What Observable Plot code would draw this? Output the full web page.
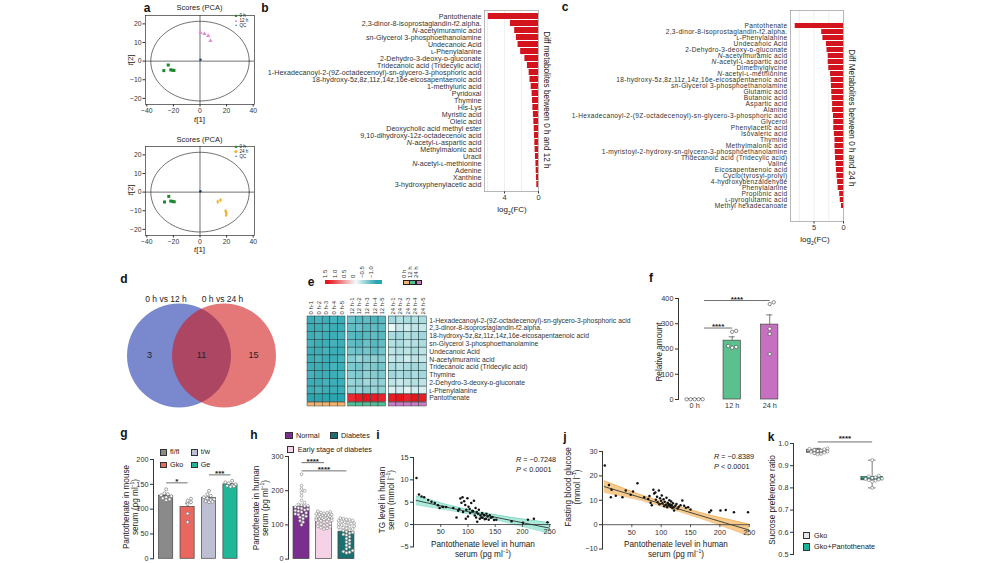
<!DOCTYPE html>
<html>
<head>
<meta charset="utf-8">
<script src="https://cdn.jsdelivr.net/npm/d3@7"></script>
<script src="https://cdn.jsdelivr.net/npm/@observablehq/plot@0.6"></script>
<style>
html,body{margin:0;padding:0;background:#fff;}
#root{position:relative;width:1000px;height:563px;overflow:hidden;background:#fff;font-family:"Liberation Sans",Arial,Helvetica,sans-serif;color:#222;}
#root svg{overflow:visible;}
#root sup{font-size:0.6em;line-height:0;}
#root sub{font-size:0.65em;line-height:0;}
</style>
</head>
<body>
<div id="root"></div>
<script>
// ===================== DATA =====================
// a: PCA scores, 0 h vs 12 h
const pca12_0h_t1 = [-27.2, -23.9, -22.0, -20.5, -19.6];
const pca12_0h_t2 = [-5.1, -2.1, -4.7, -4.9, -5.0];
const pca12_12h_t1 = [0.4, 3.4, 6.2, 7.9];
const pca12_12h_t2 = [15.2, 14.7, 13.6, 11.0];
const pca12_qc_t1 = [0.4];
const pca12_qc_t2 = [0.8];
// a: PCA scores, 0 h vs 24 h
const pca24_0h_t1 = [-26.7, -23.5, -22.0, -20.5, -19.4];
const pca24_0h_t2 = [-5.3, -2.3, -4.8, -5.0, -5.2];
const pca24_24h_t1 = [13.4, 15.4, 19.2, 19.9, 19.7];
const pca24_24h_t2 = [-5.2, -4.3, -10.2, -11.1, -12.3];
const pca24_qc_t1 = [0.3];
const pca24_qc_t2 = [0.5];
const pcaEllipseT1 = 37;    // Hotelling ellipse semi-axis along t[1]
const pcaEllipseT2 = 21.4;  // semi-axis along t[2]

// b: diff metabolites 0 h vs 12 h, log2(FC)
const bNames = ["Pantothenate","2,3-dinor-8-isoprostaglandin-f2.alpha.","N-acetylmuramic acid","sn-Glycerol 3-phosphoethanolamine","Undecanoic Acid","ʟ-Phenylalanine","2-Dehydro-3-deoxy-ᴅ-gluconate","Tridecanoic acid (Tridecylic acid)","1-Hexadecanoyl-2-(9Z-octadecenoyl)-sn-glycero-3-phosphoric acid","18-hydroxy-5z,8z,11z,14z,16e-eicosapentaenoic acid","1-methyluric acid","Pyridoxal","Thymine","His-Lys","Myristic acid","Oleic acid","Deoxycholic acid methyl ester","9,10-dihydroxy-12z-octadecenoic acid","N-acetyl-ʟ-aspartic acid","Methylmalonic acid","Uracil","N-acetyl-ʟ-methionine","Adenine","Xanthine","3-hydroxyphenylacetic acid"];
const bFC = [5.9, 3.3, 2.8, 2.6, 2.4, 2.1, 1.6, 1.3, 1.1, 1.0, 0.86, 0.75, 0.7, 0.66, 0.6, 0.55, 0.5, 0.47, 0.43, 0.4, 0.36, 0.3, 0.27, 0.24, 0.2];
const bTicks = [4, 0];

// c: diff metabolites 0 h vs 24 h, log2(FC)
const cNames = ["Pantothenate","2,3-dinor-8-isoprostaglandin-f2.alpha.","ʟ-Phenylalanine","Undecanoic Acid","2-Dehydro-3-deoxy-ᴅ-gluconate","N-acetylmuramic acid","N-acetyl-ʟ-aspartic acid","Dimethylglycine","N-acetyl-ʟ-methionine","18-hydroxy-5z,8z,11z,14z,16e-eicosapentaenoic acid","sn-Glycerol 3-phosphoethanolamine","Glutamic acid","Butanoic acid","Aspartic acid","Alanine","1-Hexadecanoyl-2-(9Z-octadecenoyl)-sn-glycero-3-phosphoric acid","Glycerol","Phenylacetic acid","Isovaleric acid","Thymine","Methylmalonic acid","1-myristoyl-2-hydroxy-sn-glycero-3-phosphoethanolamine","Tridecanoic acid (Tridecylic acid)","Valine","Eicosapentaenoic acid","Cyclo(tyrosyl-prolyl)","4-hydroxybenzaldehyde","Phenylalanine","Propionic acid","ʟ-pyroglutamic acid","Methyl hexadecanoate"];
const cFC = [8.2, 3.7, 3.5, 2.9, 2.8, 2.6, 2.6, 2.5, 2.2, 2.1, 2.05, 2.0, 1.95, 1.85, 1.85, 1.7, 1.65, 1.65, 1.55, 1.45, 1.45, 1.4, 1.35, 1.25, 1.2, 1.1, 1.0, 0.9, 0.65, 0.55, 0.35];
const cTicks = [5, 0];

// d: Venn
const vennSets = ["0 h vs 12 h", "0 h vs 24 h"];
const vennCounts = [3, 11, 15]; // only 12 h, shared, only 24 h

// e: heatmap
const heatMetabolites = ["1-Hexadecanoyl-2-(9Z-octadecenoyl)-sn-glycero-3-phosphoric acid","2,3-dinor-8-isoprostaglandin-f2.alpha.","18-hydroxy-5z,8z,11z,14z,16e-eicosapentaenoic acid","sn-Glycerol 3-phosphoethanolamine","Undecanoic Acid","N-acetylmuramic acid","Tridecanoic acid (Tridecylic acid)","Thymine","2-Dehydro-3-deoxy-ᴅ-gluconate","ʟ-Phenylalanine","Pantothenate"];
const heatGroups = ["0 h", "12 h", "24 h"];
const heatReplicates = [1, 2, 3, 4, 5];
const heatValues = [
  [-1.0,-0.95,-1.0,-0.95,-1.0, -0.75,-0.85,-0.8,-0.9,-0.85, -0.45,-0.35,-0.4,-0.35,-0.4],
  [-1.0,-1.0,-0.95,-1.0,-1.0, -0.8,-0.75,-0.85,-0.8,-0.8, -0.05,-0.25,-0.2,-0.3,-0.25],
  [-1.0,-0.95,-1.0,-1.0,-0.95, -0.85,-0.9,-0.85,-0.8,-0.85, -0.4,-0.45,-0.35,-0.4,-0.45],
  [-0.95,-1.0,-1.0,-0.95,-1.0, -0.8,-0.85,-0.75,-0.85,-0.8, -0.35,-0.4,-0.3,-0.35,-0.4],
  [-1.0,-1.0,-0.95,-1.0,-1.0, -0.7,-0.75,-0.7,-0.8,-0.7, -0.3,-0.35,-0.3,-0.4,-0.3],
  [-1.0,-0.95,-1.0,-1.0,-0.95, -0.6,-0.5,-0.6,-0.55,-0.6, -0.25,-0.3,-0.2,-0.3,-0.25],
  [-1.0,-1.0,-1.0,-0.95,-1.0, -0.65,-0.7,-0.6,-0.65,-0.7, -0.4,-0.35,-0.4,-0.45,-0.4],
  [-0.95,-1.0,-1.0,-1.0,-0.95, -0.6,-0.65,-0.55,-0.6,-0.65, -0.45,-0.4,-0.45,-0.4,-0.45],
  [-1.0,-1.0,-0.95,-1.0,-1.0, -0.5,-0.55,-0.45,-0.5,-0.55, -0.3,-0.25,-0.3,-0.35,-0.3],
  [-1.0,-0.95,-1.0,-1.0,-1.0, -0.55,-0.5,-0.6,-0.5,-0.55, -0.15,-0.2,-0.1,-0.2,-0.15],
  [-1.15,-1.15,-1.1,-1.15,-1.15, 1.35,1.45,1.5,1.45,1.4, 1.45,1.5,1.4,1.5,1.45]
];
const heatLegendTicks = [1.5, 1.0, 0.5, 0, -0.5, -1.0];

// f: relative amount of pantothenate
const fGroups = ["0 h", "12 h", "24 h"];
const f0h = [1, 1, 1, 1, 1];
const f12h = [272, 268, 212, 205, 208];
const f24h = [385, 378, 280, 260, 180];
const fTicks = [0, 100, 200, 300, 400];

// g: pantothenate in mouse serum
const gGroups = ["fl/fl", "Gko", "t/w", "Ge"];
const gFlfl = [140, 132, 130, 128, 126, 124, 122, 120, 118];
const gGko = [121, 117, 114, 110, 91, 74];
const gTw = [137, 130, 127, 124, 122, 120, 118, 116, 115, 114];
const gGe = [157, 154, 152, 150, 148, 147, 146, 145];
const gTicks = [0, 50, 100, 150, 200];

// h: pantothenate in human serum
const hGroups = ["Normal", "Early stage of diabetes", "Diabetes"];
const hNormal = [248,215,205,200,195,185,172,165,160,158,156,155,152,150,148,146,144,142,140,138,135,132,130,128,125,122,118,112,108,100];
const hEarly = [140,138,136,135,134,132,130,130,128,127,126,125,124,123,122,121,120,120,119,118,117,116,115,114,113,112,110,108,106,104,102,100,98,96,94,92,90,88];
const hDiabetes = [120,118,116,115,113,112,110,108,106,105,104,102,100,98,96,95,93,92,90,88,86,85,83,80,78,75,72,70,65,60,55,50,45,40,35,30,25,22,20,18];
const hTicks = [0, 100, 200, 300];

// i: TG level vs pantothenate
const iX = [5.5,10,14.7,19.6,27,33,39,45,48,53,60,54.5,73,79,82,84,86,88,90,91,93,95,97,99,101,103,104,106,108,109.5,111,112.5,114,115,116,118.7,120,121.7,123,124.7,126,127,129,130,131,133,134,136,138,140,142,145,148,152,180,201,210,221,246,96,100,117];
const iY = [10.4,6.7,6.3,6.1,5.5,5.1,4.8,4.3,3.7,4.0,3.9,3.9,3.7,1.6,3.1,3.5,5.8,4.9,6.1,2.8,5.2,4.4,3.3,5.9,4.0,3.5,2.6,4.8,3.1,3.0,5.3,2.0,3.7,1.6,2.8,2.4,3.3,1.3,2.0,1.6,2.6,1.5,2.2,2.0,1.2,1.3,2.4,1.8,1.1,2.1,1.5,1.7,1.0,1.05,0.75,0.4,1.1,1.3,0.5,1.3,1.8,0.6];
const iFitX = [5, 60, 115, 180, 250];
const iFitY = [5.4, 3.9, 2.5, 0.9, -0.8];
const iBandLo = [4.4, 3.3, 2.1, 0.2, -2.0];
const iBandHi = [6.4, 4.5, 2.9, 1.6, 0.4];
const iYTicks = [-5, 0, 5, 10, 15];
const iXTicks = [50, 100, 150, 200, 250];

// j: fasting blood glucose vs pantothenate
const jX = [3.9,11,15.4,14.2,22.7,34,39.7,48,52,59.6,71,78,80,82,84,86.7,88,90,91,93,94,96,97,98,100,101,102,104,105,106,108,109,110,111,112,113,114,115,116,117,118,119,120,121,122,124,126,128,130,133,136,139,142,146,150,182,185,201,210,224,248];
const jY = [24.3,16.3,14.3,11.2,11.9,11.2,14.0,12.3,13.6,17.0,11.2,10.5,11.8,9.0,8.0,14.3,12.8,13.2,10.2,11.5,9.2,14.0,8.4,10.8,9.8,12.0,8.8,10.4,7.6,9.4,8.2,11.0,7.1,9.0,8.6,7.9,10.0,8.3,7.4,9.5,8.0,6.8,8.8,7.1,5.8,7.8,8.5,6.6,7.4,8.0,9.9,7.8,6.9,7.2,6.2,5.1,5.8,5.8,6.0,5.1,5.1];
const jFitX = [3, 60, 115, 180, 250];
const jFitY = [15.6, 11.5, 7.5, 2.8, -2.2];
const jBandLo = [13.2, 10.3, 6.6, 1.5, -4.6];
const jBandHi = [18.0, 12.7, 8.4, 4.1, 0.2];
const jYTicks = [-10, 0, 10, 20, 30];
const jXTicks = [50, 100, 150, 200, 250];

// k: sucrose preference ratio
const kGroups = ["Gko", "Gko+Pantothenate"];
const kGko = [0.978,0.976,0.974,0.971,0.968,0.966,0.964,0.962,0.959,0.956,0.953,0.951];
const kGkoP = [0.925,0.855,0.852,0.848,0.845,0.842,0.84,0.838,0.835,0.832,0.828,0.8];
const kTicks = [0.5, 0.6, 0.7, 0.8, 0.9, 1.0];

// ===================== HELPERS =====================
const FONT = '"Liberation Sans", Arial, Helvetica, sans-serif';
const root = document.getElementById("root");
const st = (fs, ls = 0) => ({fontFamily: FONT, fontSize: fs + "px", letterSpacing: ls + "px", color: "#333", background: "transparent", overflow: "visible"});
function put(svg, left, top) {
  svg.style.position = "absolute"; svg.style.left = left + "px"; svg.style.top = top + "px";
  root.appendChild(svg); return svg;
}
function txt(html, x, y, o = {}) {
  const d = document.createElement("div");
  d.innerHTML = html;
  const size = o.size ?? 7, rot = o.rot ?? 0, align = o.align ?? "center";
  const tx = align === "left" ? "0" : align === "right" ? "-100%" : "-50%";
  d.style.cssText = `position:absolute;left:${x}px;top:${y}px;font-size:${size}px;line-height:${o.lh ?? 1.2};white-space:nowrap;text-align:center;color:${o.color ?? "#222"};font-weight:${o.weight ?? "normal"};transform:translate(${tx},-50%) rotate(${rot}deg);transform-origin:${align === "left" ? "0 50%" : "50% 50%"};`;
  root.appendChild(d); return d;
}
function rtxt(html, x, y, size) { // rotated -90, text starts at (x,y) and runs upward
  const d = document.createElement("div");
  d.innerHTML = html;
  d.style.cssText = `position:absolute;left:${x}px;top:${y - size / 2}px;font-size:${size}px;line-height:${size}px;height:${size}px;white-space:nowrap;color:#333;transform-origin:0 50%;transform:rotate(-90deg);`;
  root.appendChild(d); return d;
}
function swatch(x, y, w, h, fill, stroke = "#333") {
  const d = document.createElement("div");
  d.style.cssText = `position:absolute;left:${x}px;top:${y}px;width:${w}px;height:${h}px;background:${fill};border:0.7px solid ${stroke};box-sizing:border-box;`;
  root.appendChild(d); return d;
}
function fontAxis(svg, axis, size) {
  d3.select(svg).selectAll(`g[aria-label^="${axis}-axis"] text`).style("font-size", size + "px").style("letter-spacing", "0px");
}
function italicize(svg, axis) {
  d3.select(svg).selectAll(`g[aria-label^="${axis}-axis"] text`).each(function () {
    const t = this.textContent;
    const m = t.match(/^(N|sn)(-.*)$/);
    if (m) {
      const s = d3.select(this); s.text("");
      s.append("tspan").attr("font-style", "italic").text(m[1]);
      s.append("tspan").text(m[2]);
    }
  });
}
function beeswarm(vals, k, d, maxOff) {
  const order = d3.range(vals.length).sort((a, b) => vals[a] - vals[b]);
  const cands = [0];
  for (let s = 1; s <= 60; s++) {
    const v = Math.ceil(s / 2) * d * 0.5 * (s % 2 ? 1 : -1);
    if (Math.abs(v) <= maxOff) cands.push(v);
  }
  const placed = [], off = new Array(vals.length).fill(0);
  for (const i of order) {
    const y = vals[i] * k;
    let chosen = null, best = -1, bestC = 0;
    for (const c of cands) {
      let m = Infinity;
      for (const p of placed) { const dd = Math.hypot(p.x - c, p.y - y); if (dd < m) m = dd; }
      if (m >= d) { chosen = c; break; }
      if (m > best) { best = m; bestC = c; }
    }
    if (chosen === null) chosen = bestC;
    placed.push({x: chosen, y}); off[i] = chosen;
  }
  return off;
}
function groupStats(groups) {
  return groups.map((vals, i) => {
    const mean = d3.mean(vals), sd = d3.deviation(vals) || 0;
    return {i, mean, sem: sd / Math.sqrt(vals.length)};
  });
}
function swarmRows(groups, kY, pxX, d, maxOff) {
  const rows = [];
  groups.forEach((vals, i) => {
    const off = beeswarm(vals, kY, d, maxOff);
    vals.forEach((v, j) => rows.push({x: i + off[j] / pxX, v}));
  });
  return rows;
}

// ===================== PANEL LETTERS =====================
[["a",147,8],["b",265,8],["c",565,7],["d",124,279],["e",311,282],["f",651,278],["g",124,433],["h",254,435],["i",378,435],["j",565,437],["k",771,437]]
  .forEach(([l, x, y]) => txt(l, x, y, {size: 12, weight: "bold", color: "#111"}));

// ===================== a: PCA =====================
function pcaPlot(groups) {
  const ell = d3.range(0, 361, 4).map(a => ({t1: pcaEllipseT1 * Math.cos(a * Math.PI / 180), t2: pcaEllipseT2 * Math.sin(a * Math.PI / 180)}));
  return Plot.plot({
    width: 131, height: 105, marginLeft: 20, marginRight: 2, marginTop: 2, marginBottom: 14,
    style: st(6.8),
    x: {domain: [-41, 41], ticks: [-40, -20, 0, 20, 40], tickSize: 2.5, tickPadding: 1.5, label: null},
    y: {domain: [-23.3, 24.5], ticks: [-20, -10, 0, 10, 20], tickSize: 2.5, tickPadding: 1.5, label: null},
    marks: [
      Plot.ruleX([0], {stroke: "#333", strokeWidth: 0.7}),
      Plot.ruleY([0], {stroke: "#333", strokeWidth: 0.7}),
      Plot.line(ell, {x: "t1", y: "t2", stroke: "#333", strokeWidth: 0.7}),
      ...groups.map(g => Plot.dot(d3.zip(g.t1, g.t2), {x: d => d[0], y: d => d[1], symbol: g.symbol, r: g.r, fill: g.fill})),
      Plot.frame({stroke: "#333", strokeWidth: 0.7})
    ]
  });
}
put(pcaPlot([
  {t1: pca12_0h_t1, t2: pca12_0h_t2, symbol: "square", r: 1.7, fill: "#1b8a2d"},
  {t1: pca12_12h_t1, t2: pca12_12h_t2, symbol: "triangle", r: 1.6, fill: "#e08fd2"},
  {t1: pca12_qc_t1, t2: pca12_qc_t2, symbol: "circle", r: 1.2, fill: "#1d3d5a"}
]), 125, 13);
put(pcaPlot([
  {t1: pca24_0h_t1, t2: pca24_0h_t2, symbol: "square", r: 1.7, fill: "#1b8a2d"},
  {t1: pca24_24h_t1, t2: pca24_24h_t2, symbol: "diamond", r: 1.5, fill: "#f2b338"},
  {t1: pca24_qc_t1, t2: pca24_qc_t2, symbol: "circle", r: 1.2, fill: "#1d3d5a"}
]), 125, 144);
txt("Scores (PCA)", 199.5, 7, {size: 7.5});
txt("<i>t</i>[1]", 199.5, 120, {size: 8});
txt("<i>t</i>[2]", 131, 60, {size: 8, rot: -90});
txt("Scores (PCA)", 199.5, 139, {size: 7.5});
txt("<i>t</i>[1]", 199.5, 250, {size: 8});
txt("<i>t</i>[2]", 131, 190, {size: 8, rot: -90});
[[["■","#1b8a2d","0 h"],["▲","#e08fd2","12 h"],["•","#1d3d5a","QC"]], [["■","#1b8a2d","0 h"],["◆","#f2b338","24 h"],["•","#1d3d5a","QC"]]]
  .forEach((items, p) => items.forEach(([s, c, l], k) => {
    const y = (p ? 147 : 16) + k * 5;
    txt(`<span style="color:${c}">${s}</span>`, 236, y, {size: 4.5});
    txt(l, 239.5, y, {size: 4.5, align: "left"});
  }));

// ===================== b / c: log2 FC bars =====================
function fcBars(names, vals, ticks, xmax, frameW, frameH, labelW, grid, fs, ls) {
  const rows = names.map((n, i) => ({n, v: vals[i]}));
  const svg = Plot.plot({
    width: labelW + frameW + 2, height: frameH + 13, marginLeft: labelW, marginRight: 2, marginTop: 1, marginBottom: 12,
    style: st(fs, ls),
    x: {domain: [xmax, 0], ticks, tickFormat: d => String(d), tickSize: 2.5, tickPadding: 1, label: null},
    y: {domain: names, padding: 0.12, tickSize: 0, tickPadding: 3, label: null},
    marks: [
      Plot.ruleX(grid, {stroke: "#e2e2e2", strokeWidth: 0.6}),
      Plot.barX(rows, {y: "n", x: "v", fill: "#d3141c"}),
      Plot.frame({stroke: "#888", strokeWidth: 0.6})
    ]
  });
  fontAxis(svg, "x", 7.5);
  italicize(svg, "y");
  return svg;
}
put(fcBars(bNames, bFC, bTicks, 6.35, 54, 181, 224, [2, 4, 6], 7.1, 0.05), 260, 9);
put(fcBars(cNames, cFC, cTicks, 9, 53, 211, 230, [2.5, 5, 7.5], 6.6, 0.32), 560, 9);
txt("Diff metabolites between 0 h and 12 h", 546, 100, {size: 8.2, rot: 90});
txt("log<sub>2</sub>(FC)", 512, 210, {size: 8});
txt("Diff Metabolites between 0 h and 24 h", 851, 118, {size: 8.2, rot: 90});
txt("log<sub>2</sub>(FC)", 815, 240, {size: 8});

// ===================== d: Venn =====================
{
  const R = 52, sep = 45;
  const regionX = [(-sep / 2 - R + sep / 2 - R) / 2, 0, (sep / 2 + R - sep / 2 + R) / 2];
  const venn = Plot.plot({
    width: 180, height: 130, margin: 0, style: st(8),
    x: {domain: [-90, 90], axis: null},
    y: {domain: [65, -65], axis: null},
    marks: [
      Plot.dot([vennSets[0]], {x: -sep / 2, y: 0, r: R, fill: "#7a88ce"}),
      Plot.dot([vennSets[1]], {x: sep / 2, y: 0, r: R, fill: "#d01616", fillOpacity: 0.58}),
      Plot.text(vennCounts, {x: (d, i) => regionX[i], y: 0, text: d => String(d), fontSize: 9, fill: "#222"}),
      Plot.text(vennSets, {x: (d, i) => [-35.5, 21][i], y: -56, text: d => d, fontSize: 8.5, fill: "#222"})
    ]
  });
  put(venn, 110.5, 290);
}

// ===================== e: heatmap =====================
{
  const GAP = 0.35, XMAX = 15 + 2 * GAP;
  const groupColors = ["#f2b46c", "#4fbf95", "#c77cc6"];
  const colPos = c => c + Math.floor(c / 5) * GAP;
  const cells = [];
  heatMetabolites.forEach((m, r) => heatValues[r].forEach((v, c) => cells.push({r, c, v})));
  const cols = d3.range(15).map(c => ({c, g: Math.floor(c / 5), label: `${heatGroups[Math.floor(c / 5)]}-${heatReplicates[c % 5]}`}));
  const heat = Plot.plot({
    width: 119.3 + 215, height: 112, marginLeft: 0, marginRight: 215, marginTop: 20, marginBottom: 2,
    style: st(6.8),
    x: {domain: [0, XMAX], axis: null},
    y: {domain: [11.55, 0], axis: null},
    color: {type: "linear", domain: [-1.1, 0, 1.5], range: ["#2aa6b1", "#f5fbfb", "#e8141b"], clamp: true},
    marks: [
      Plot.rect(cells, {x1: d => colPos(d.c), x2: d => colPos(d.c) + 1, y1: "r", y2: d => d.r + 1, fill: "v", stroke: "#1f3a3c", strokeWidth: 0.5}),
      ...heatGroups.map((g, gi) => Plot.rect(cols.filter(d => d.g === gi), {x1: d => colPos(d.c), x2: d => colPos(d.c) + 1, y1: 11.05, y2: 11.55, fill: groupColors[gi], stroke: "#333", strokeWidth: 0.45})),
      Plot.text(cols, {x: d => colPos(d.c) + 0.5, y: 0, text: "label", rotate: -90, textAnchor: "start", dy: -2, fontSize: 6, fill: "#333"}),
      Plot.text(heatMetabolites, {x: XMAX, y: (d, i) => i + 0.5, text: d => d, textAnchor: "start", dx: 2.5, fontSize: 6.8, fill: "#333"})
    ]
  });
  put(heat, 306.7, 295.7);
  // colour bar legend
  const cs = heat.scale("color");
  const pxPer = 18.4, x0 = 325, x1 = 381.7, vAt = x => 1.5 - (x - 328) / pxPer;
  const stops = d3.range(0, 1.0001, 0.05).map(t => `${cs.apply(vAt(x0 + t * (x1 - x0)))} ${(t * 100).toFixed(0)}%`);
  const bar = document.createElement("div");
  bar.style.cssText = `position:absolute;left:${x0}px;top:279.5px;width:${x1 - x0}px;height:4.5px;background:linear-gradient(to right, ${stops.join(",")});`;
  root.appendChild(bar);
  heatLegendTicks.forEach(v => rtxt(v === 0 ? "0" : (v < 0 ? "−" : "") + Math.abs(v).toFixed(1), 328 + (1.5 - v) * pxPer - 2.7, 277.5, 6));
  heatGroups.forEach((g, gi) => {
    swatch(403 + gi * 6.3, 279.5, 6.6, 5, groupColors[gi], "#222");
    rtxt(g, 403 + gi * 6.3 + 0.6, 277.5, 6);
  });
}

// ===================== f =====================
{
  const pxX = 110 / 2.93, kY = 101 / 400, halfW = 0.23;
  const groups = [f0h, f12h, f24h];
  const stats = groupStats(groups);
  const colors = ["#ffffff", "#5bc08e", "#c570c0"];
  const dots = swarmRows(groups, kY, pxX, 4, 10);
  const sig = [{a: 0, b: 2, y: 392, label: "****"}, {a: 0, b: 1, y: 283, label: "****"}];
  const svg = Plot.plot({
    width: 134, height: 118, marginLeft: 22, marginRight: 2, marginTop: 5, marginBottom: 12,
    style: st(7.3),
    x: {domain: [-0.43, 2.5], ticks: [0, 1, 2], tickFormat: i => fGroups[i], tickSize: 0, tickPadding: 3, label: null},
    y: {domain: [0, 400], ticks: fTicks, tickSize: 3, tickPadding: 2, label: null, line: true},
    marks: [
      ...stats.map(s => Plot.rect([s], {x1: d => d.i - halfW, x2: d => d.i + halfW, y1: 0, y2: "mean", fill: colors[s.i], stroke: "#444", strokeWidth: 0.7})),
      Plot.ruleX(stats.filter(s => s.mean > 10), {x: "i", y1: "mean", y2: d => d.mean + d.sem, stroke: "#444", strokeWidth: 0.7}),
      Plot.ruleY(stats.filter(s => s.mean > 10), {y: d => d.mean + d.sem, x1: d => d.i - 0.08, x2: d => d.i + 0.08, stroke: "#444", strokeWidth: 0.7}),
      Plot.dot(dots, {x: "x", y: "v", r: 1.7, fill: "white", stroke: "#444", strokeWidth: 0.6}),
      Plot.link(sig, {x1: d => d.a + 0.25, x2: "b", y1: "y", y2: "y", stroke: "#333", strokeWidth: 0.7}),
      Plot.text(sig, {x: d => (d.a + 0.25 + d.b) / 2, y: "y", text: "label", dy: -1.5, fontSize: 8, fontWeight: "bold", fill: "#222"})
    ]
  });
  put(svg, 656, 293.3);
  txt("Relative amount", 660, 352, {size: 8.2, rot: -90});
}

// ===================== g =====================
{
  const pxX = 87.7 / 4.09, kY = 99.3 / 200, halfW = 0.33;
  const groups = [gFlfl, gGko, gTw, gGe];
  const stats = groupStats(groups);
  const colors = ["#8a8a8a", "#e8675f", "#bcc0d2", "#1fb798"];
  const dots = swarmRows(groups, kY, pxX, 3.4, 6);
  const sig = [{a: 0, b: 1, y: 153, label: "*"}, {a: 2, b: 3, y: 169, label: "***"}];
  const svg = Plot.plot({
    width: 111.7, height: 116.3, marginLeft: 22, marginRight: 2, marginTop: 5, marginBottom: 12,
    style: st(7.3),
    x: {domain: [-0.59, 3.5], axis: null},
    y: {domain: [0, 200], ticks: gTicks, tickSize: 3, tickPadding: 2, label: null, line: true},
    marks: [
      ...stats.map(s => Plot.rect([s], {x1: d => d.i - halfW, x2: d => d.i + halfW, y1: 0, y2: "mean", fill: colors[s.i], stroke: "#444", strokeWidth: 0.7})),
      Plot.ruleX(stats, {x: "i", y1: "mean", y2: d => d.mean + d.sem, stroke: "#444", strokeWidth: 0.7}),
      Plot.ruleY(stats, {y: d => d.mean + d.sem, x1: d => d.i - 0.1, x2: d => d.i + 0.1, stroke: "#444", strokeWidth: 0.7}),
      Plot.dot(dots, {x: "x", y: "v", r: 1.5, fill: "white", stroke: "#666", strokeWidth: 0.6}),
      Plot.link(sig, {x1: "a", x2: "b", y1: "y", y2: "y", stroke: "#333", strokeWidth: 0.7}),
      Plot.text(sig, {x: d => (d.a + d.b) / 2, y: "y", text: "label", dy: -1.5, fontSize: 8, fontWeight: "bold", fill: "#222"})
    ]
  });
  put(svg, 131.3, 454.2);
  txt("Pantothenate in mouse<br>serum (pg ml<sup>−1</sup>)", 131, 507, {size: 8.2, rot: -90, lh: 1.15});
  [[0, 160, 449], [1, 160, 461.7], [2, 190.7, 449], [3, 190.7, 461.7]].forEach(([i, x, y]) => {
    swatch(x, y, 7.3, 6.8, colors[i]);
    txt(gGroups[i], x + 10, y + 3.4, {size: 7.3, align: "left"});
  });
}

// ===================== h =====================
{
  const pxX = 70.3 / 3.13, kY = 102.6 / 300, halfW = 0.356;
  const groups = [hNormal, hEarly, hDiabetes];
  const stats = groupStats(groups);
  const colors = ["#7a2e8e", "#f6d2e6", "#1c6f6f"];
  const dots = swarmRows(groups, kY, pxX, 3.1, 8);
  const sig = [{a: 0, b: 1, y: 282, label: "****"}, {a: 0, b: 2, y: 258, label: "****"}];
  const svg = Plot.plot({
    width: 70.3 + 24, height: 102.6 + 17, marginLeft: 22, marginRight: 2, marginTop: 5, marginBottom: 12,
    style: st(7.3),
    x: {domain: [-0.58, 2.55], axis: null},
    y: {domain: [0, 300], ticks: hTicks, tickSize: 3, tickPadding: 2, label: null, line: true},
    marks: [
      ...stats.map(s => Plot.rect([s], {x1: d => d.i - halfW, x2: d => d.i + halfW, y1: 0, y2: "mean", fill: colors[s.i], stroke: "#444", strokeWidth: 0.7})),
      Plot.ruleX(stats, {x: "i", y1: "mean", y2: d => d.mean + d.sem, stroke: "#444", strokeWidth: 0.7}),
      Plot.ruleY(stats, {y: d => d.mean + d.sem, x1: d => d.i - 0.1, x2: d => d.i + 0.1, stroke: "#444", strokeWidth: 0.7}),
      Plot.dot(dots, {x: "x", y: "v", r: 1.4, fill: "white", stroke: "#777", strokeWidth: 0.55}),
      Plot.link(sig, {x1: "a", x2: "b", y1: "y", y2: "y", stroke: "#333", strokeWidth: 0.7}),
      Plot.text(sig, {x: d => (d.a + d.b) / 2, y: "y", text: "label", dy: -1.5, fontSize: 8, fontWeight: "bold", fill: "#222"})
    ]
  });
  put(svg, 266.3, 451.2);
  txt("Pantothenate in human<br>serum (pg ml<sup>−1</sup>)", 261, 508, {size: 8.2, rot: -90, lh: 1.15});
  [[0, 285, 431.7], [2, 330, 431.7], [1, 286.7, 445.7]].forEach(([i, x, y]) => {
    swatch(x, y, 7.6, 7.6, colors[i]);
    txt(hGroups[i], x + 11, y + 3.8, {size: 7.3, align: "left"});
  });
}

// ===================== i / j scatter =====================
function scatter({X, Y, fitX, fitY, lo, hi, xDom, yDom, yTicks, xTicks, fw, fh, band, bandEdge}) {
  const pts = X.map((x, k) => ({x, y: Y[k]}));
  const fit = fitX.map((x, k) => ({x, y: fitY[k], lo: lo[k], hi: hi[k]}));
  return Plot.plot({
    width: fw + 24, height: fh + 7, marginLeft: 22, marginRight: 2, marginTop: 5, marginBottom: 2,
    style: st(7.3),
    x: {domain: xDom, axis: null},
    y: {domain: yDom, ticks: yTicks, tickSize: 3, tickPadding: 2, label: null, line: true},
    marks: [
      Plot.areaY(fit, {x: "x", y1: "lo", y2: "hi", fill: band, fillOpacity: 0.75}),
      Plot.line(fit, {x: "x", y: "lo", stroke: bandEdge, strokeWidth: 0.5}),
      Plot.line(fit, {x: "x", y: "hi", stroke: bandEdge, strokeWidth: 0.5}),
      Plot.ruleY([0], {stroke: "#333", strokeWidth: 0.8}),
      Plot.ruleX(xTicks, {x: d => d, y1: 0, y2: 0, insetBottom: -3, stroke: "#333", strokeWidth: 0.8}),
      Plot.text(xTicks, {x: d => d, y: 0, dy: 7.5, text: d => String(d), fontSize: 7.3, fill: "#333"}),
      Plot.line(fit, {x: "x", y: "y", stroke: "#2d3b36", strokeWidth: 0.9}),
      Plot.dot(pts, {x: "x", y: "y", r: 1.25, fill: "#111"})
    ]
  });
}
put(scatter({X: iX, Y: iY, fitX: iFitX, fitY: iFitY, lo: iBandLo, hi: iBandHi, xDom: [0, 253], yDom: [-5, 15], yTicks: iYTicks, xTicks: iXTicks, fw: 137.8, fh: 89.4, band: "#8fe3cf", bandEdge: "#5cc9b0"}), 390.7, 452.3);
txt("TG level in human<br>serum (mmol l<sup>−1</sup>)", 387, 500, {size: 8.2, rot: -90, lh: 1.15});
txt("Pantothenate level in human<br>serum (pg ml<sup>−1</sup>)", 483, 550, {size: 8.2, lh: 1.25});
txt("<i>R</i> = −0.7248", 516, 460, {size: 7.3, align: "left"});
txt("<i>P</i> &lt; 0.0001", 516, 469.5, {size: 7.3, align: "left"});

put(scatter({X: jX, Y: jY, fitX: jFitX, fitY: jFitY, lo: jBandLo, hi: jBandHi, xDom: [0, 252], yDom: [-10, 30], yTicks: jYTicks, xTicks: jXTicks, fw: 147.9, fh: 97.6, band: "#f6b866", bandEdge: "#e29a3c"}), 579.7, 445.7);
txt("Fasting blood glucose<br>(mmol l<sup>−1</sup>)", 573, 487, {size: 8.2, rot: -90, lh: 1.15});
txt("Pantothenate level in human<br>serum (pg ml<sup>−1</sup>)", 676, 550, {size: 8.2, lh: 1.25});
txt("<i>R</i> = −0.8389", 714, 457.3, {size: 7.3, align: "left"});
txt("<i>P</i> &lt; 0.0001", 714, 466.7, {size: 7.3, align: "left"});

// ===================== k: box plots =====================
{
  const pxX = 103.2 / 1.894, kY = 111 / 0.5, halfW = 0.198;
  const groups = [kGko, kGkoP];
  const colors = ["#e6e6e6", "#1db295"];
  const stats = groups.map((vals, i) => {
    const s = vals.slice().sort(d3.ascending);
    return {i, min: s[0], max: s[s.length - 1], q1: d3.quantile(s, 0.25), med: d3.quantile(s, 0.5), q3: d3.quantile(s, 0.75)};
  });
  const dots = swarmRows(groups, kY, pxX, 3.3, 10);
  const sig = [{a: 0, b: 1, y: 1.007, label: "****"}];
  const svg = Plot.plot({
    width: 103.2 + 26, height: 111 + 7, marginLeft: 24, marginRight: 2, marginTop: 5, marginBottom: 2,
    style: st(7.3),
    x: {domain: [-0.444, 1.45], axis: null},
    y: {domain: [0.5, 1.0], ticks: kTicks, tickFormat: d3.format(".1f"), tickSize: 3, tickPadding: 2, label: null, line: true},
    marks: [
      Plot.ruleX(stats, {x: "i", y1: "min", y2: "max", stroke: "#444", strokeWidth: 0.7}),
      Plot.ruleY(stats, {y: "min", x1: d => d.i - 0.07, x2: d => d.i + 0.07, stroke: "#444", strokeWidth: 0.7}),
      Plot.ruleY(stats, {y: "max", x1: d => d.i - 0.07, x2: d => d.i + 0.07, stroke: "#444", strokeWidth: 0.7}),
      ...stats.map(s => Plot.rect([s], {x1: d => d.i - halfW, x2: d => d.i + halfW, y1: "q1", y2: "q3", fill: colors[s.i], stroke: "#444", strokeWidth: 0.7})),
      Plot.ruleY(stats, {y: "med", x1: d => d.i - halfW, x2: d => d.i + halfW, stroke: "#333", strokeWidth: 0.8}),
      Plot.dot(dots, {x: "x", y: "v", r: 1.5, fill: "white", stroke: "#666", strokeWidth: 0.55}),
      Plot.link(sig, {x1: "a", x2: "b", y1: "y", y2: "y", stroke: "#333", strokeWidth: 0.7}),
      Plot.text(sig, {x: d => (d.a + d.b) / 2, y: "y", text: "label", dy: -4, fontSize: 8, fontWeight: "bold", fill: "#222"})
    ]
  });
  put(svg, 769.3, 438.3);
  txt("Sucrose preference ratio", 773, 500, {size: 8.2, rot: -90});
  [[0, 531.7], [1, 543.3]].forEach(([i, y]) => {
    swatch(802.7, y, 7.5, 7.5, colors[i]);
    txt(kGroups[i], 814, y + 3.8, {size: 7.3, align: "left"});
  });
}
</script>
</body>
</html>
